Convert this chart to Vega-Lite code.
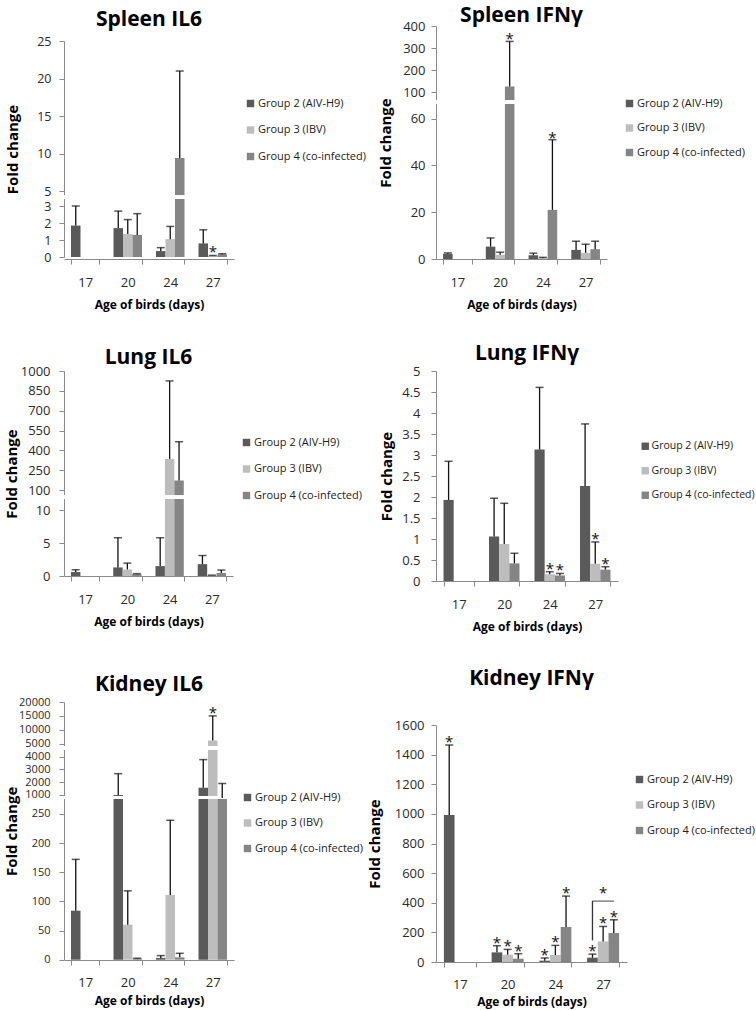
{
  "$schema": "https://vega.github.io/schema/vega-lite/v6.json",
  "padding": {"left": 4, "top": 5, "right": 0, "bottom": 30},
  "background": "white",
  "bounds": "flush",
  "config": {
    "font": "Open Sans",
    "view": {"stroke": null},
    "title": {"font": "Open Sans", "fontSize": 21, "fontWeight": "bold", "color": "#000", "anchor": "middle"},
    "axis": {"grid": false, "labelOverlap": false, "domainColor": "#8a8a8a", "tickColor": "#8a8a8a", "domainWidth": 1, "tickWidth": 1, "tickSize": 5, "labelFont": "Open Sans", "labelFontSize": 13, "labelColor": "#2a2a2a", "titleFont": "Open Sans", "titleFontWeight": "bold", "titleColor": "#000"},
    "axisX": {"labelAngle": 0, "tickBand": "extent", "labelPadding": 12, "titlePadding": 10, "titleFontSize": 12},
    "axisY": {"titleFontSize": 15, "titleBaseline": "middle", "labelPadding": 8, "labelOverlap": false, "tickCount": 40},
    "legend": {"symbolType": "square", "symbolSize": 55, "symbolStrokeWidth": 0, "labelFont": "Open Sans", "labelFontSize": 11, "labelColor": "#222", "rowPadding": 14, "labelOffset": 2, "padding": 0}
  },
  "datasets": {
    "spleen_il6": [
      {"day":"17","group":"Group 2 (AIV-H9)","value":1.85,"upper":3.0,"sig":""},
      {"day":"20","group":"Group 2 (AIV-H9)","value":1.7,"upper":2.7,"sig":""},
      {"day":"20","group":"Group 3 (IBV)","value":1.35,"upper":2.2,"sig":""},
      {"day":"20","group":"Group 4 (co-infected)","value":1.3,"upper":2.55,"sig":""},
      {"day":"24","group":"Group 2 (AIV-H9)","value":0.35,"upper":0.55,"sig":""},
      {"day":"24","group":"Group 3 (IBV)","value":1.05,"upper":1.8,"sig":""},
      {"day":"24","group":"Group 4 (co-infected)","value":9.4,"upper":21.0,"sig":""},
      {"day":"27","group":"Group 2 (AIV-H9)","value":0.8,"upper":1.6,"sig":""},
      {"day":"27","group":"Group 3 (IBV)","value":0.06,"upper":0.09,"sig":"*"},
      {"day":"27","group":"Group 4 (co-infected)","value":0.15,"upper":0.19,"sig":""}
    ],
    "spleen_ifn": [
      {"day":"17","group":"Group 2 (AIV-H9)","value":2.2,"upper":2.6,"sig":""},
      {"day":"20","group":"Group 2 (AIV-H9)","value":5.3,"upper":9.0,"sig":""},
      {"day":"20","group":"Group 3 (IBV)","value":1.8,"upper":2.9,"sig":""},
      {"day":"20","group":"Group 4 (co-infected)","value":125,"upper":330,"sig":"*"},
      {"day":"24","group":"Group 2 (AIV-H9)","value":1.6,"upper":2.5,"sig":""},
      {"day":"24","group":"Group 3 (IBV)","value":0.4,"upper":0.7,"sig":""},
      {"day":"24","group":"Group 4 (co-infected)","value":21,"upper":51,"sig":"*"},
      {"day":"27","group":"Group 2 (AIV-H9)","value":3.9,"upper":7.6,"sig":""},
      {"day":"27","group":"Group 3 (IBV)","value":2.6,"upper":6.3,"sig":""},
      {"day":"27","group":"Group 4 (co-infected)","value":4.2,"upper":7.6,"sig":""}
    ],
    "lung_il6": [
      {"day":"17","group":"Group 2 (AIV-H9)","value":0.6,"upper":0.95,"sig":""},
      {"day":"20","group":"Group 2 (AIV-H9)","value":1.3,"upper":5.8,"sig":""},
      {"day":"20","group":"Group 3 (IBV)","value":1.0,"upper":1.95,"sig":""},
      {"day":"20","group":"Group 4 (co-infected)","value":0.25,"upper":0.35,"sig":""},
      {"day":"24","group":"Group 2 (AIV-H9)","value":1.5,"upper":5.8,"sig":""},
      {"day":"24","group":"Group 3 (IBV)","value":335,"upper":925,"sig":""},
      {"day":"24","group":"Group 4 (co-infected)","value":172,"upper":465,"sig":""},
      {"day":"27","group":"Group 2 (AIV-H9)","value":1.8,"upper":3.1,"sig":""},
      {"day":"27","group":"Group 3 (IBV)","value":0.1,"upper":0.13,"sig":""},
      {"day":"27","group":"Group 4 (co-infected)","value":0.45,"upper":0.9,"sig":""}
    ],
    "lung_ifn": [
      {"day":"17","group":"Group 2 (AIV-H9)","value":1.93,"upper":2.85,"sig":""},
      {"day":"20","group":"Group 2 (AIV-H9)","value":1.06,"upper":1.97,"sig":""},
      {"day":"20","group":"Group 3 (IBV)","value":0.88,"upper":1.85,"sig":""},
      {"day":"20","group":"Group 4 (co-infected)","value":0.42,"upper":0.66,"sig":""},
      {"day":"24","group":"Group 2 (AIV-H9)","value":3.13,"upper":4.61,"sig":""},
      {"day":"24","group":"Group 3 (IBV)","value":0.16,"upper":0.22,"sig":"*"},
      {"day":"24","group":"Group 4 (co-infected)","value":0.13,"upper":0.18,"sig":"*"},
      {"day":"27","group":"Group 2 (AIV-H9)","value":2.26,"upper":3.74,"sig":""},
      {"day":"27","group":"Group 3 (IBV)","value":0.41,"upper":0.93,"sig":"*"},
      {"day":"27","group":"Group 4 (co-infected)","value":0.27,"upper":0.34,"sig":"*"}
    ],
    "kidney_il6": [
      {"day":"17","group":"Group 2 (AIV-H9)","value":84,"upper":172,"sig":""},
      {"day":"20","group":"Group 2 (AIV-H9)","value":1000,"upper":2670,"sig":""},
      {"day":"20","group":"Group 3 (IBV)","value":60,"upper":118,"sig":""},
      {"day":"20","group":"Group 4 (co-infected)","value":1.5,"upper":2.5,"sig":""},
      {"day":"24","group":"Group 2 (AIV-H9)","value":3,"upper":7,"sig":""},
      {"day":"24","group":"Group 3 (IBV)","value":111,"upper":239,"sig":""},
      {"day":"24","group":"Group 4 (co-infected)","value":4,"upper":11,"sig":""},
      {"day":"27","group":"Group 2 (AIV-H9)","value":1570,"upper":3770,"sig":""},
      {"day":"27","group":"Group 3 (IBV)","value":6200,"upper":15000,"sig":"*"},
      {"day":"27","group":"Group 4 (co-infected)","value":770,"upper":1900,"sig":""}
    ],
    "kidney_ifn": [
      {"day":"17","group":"Group 2 (AIV-H9)","value":993,"upper":1465,"sig":"*"},
      {"day":"20","group":"Group 2 (AIV-H9)","value":65,"upper":110,"sig":"*"},
      {"day":"20","group":"Group 3 (IBV)","value":49,"upper":85,"sig":"*"},
      {"day":"20","group":"Group 4 (co-infected)","value":22,"upper":56,"sig":"*"},
      {"day":"24","group":"Group 2 (AIV-H9)","value":9,"upper":27,"sig":"*"},
      {"day":"24","group":"Group 3 (IBV)","value":47,"upper":112,"sig":"*"},
      {"day":"24","group":"Group 4 (co-infected)","value":236,"upper":445,"sig":"*"},
      {"day":"27","group":"Group 2 (AIV-H9)","value":29,"upper":53,"sig":"*"},
      {"day":"27","group":"Group 3 (IBV)","value":139,"upper":240,"sig":"*"},
      {"day":"27","group":"Group 4 (co-infected)","value":196,"upper":285,"sig":"*"}
    ],
    "kidney_ifn_bracket_v": [
      {"day":"27","group":"Group 2 (AIV-H9)","from":146,"to":411}
    ],
    "kidney_ifn_bracket_h": [
      {"day":"27","group":"Group 3 (IBV)","level":411,"sig":"*"}
    ]
  },
  "columns": 2,
  "spacing": {"row": 112, "column": 202},
  "resolve": {"scale": {"x": "independent", "y": "independent", "xOffset": "independent", "color": "independent"}, "legend": {"color": "independent"}},
  "concat": [
    {
      "title": {"text": "Spleen IL6", "offset": -4},
      "width": 170, "height": 233,
      "data": {"name": "spleen_il6"},
      "layer": [
        {"mark": {"type": "bar"},
         "encoding": {
           "x": {"field": "day", "type": "nominal", "title": "Age of birds (days)", "scale": {"paddingInner": 0.33, "paddingOuter": 0.165}},
           "xOffset": {"field": "group", "type": "nominal"},
           "y": {"field": "value", "type": "quantitative", "title": "Fold change", "scale": {"domain": [0, 3.4, 4.4, 25], "range": [231, 173.2, 169.5, 15], "nice": false, "zero": false}, "axis": {"values": [0,1,2,3,5,10,15,20,25], "format": "d", "tickCount": 40, "labelOverlap": false, "titleX": -52, "labelFontSize": 12.5}},
           "color": {"field": "group", "type": "nominal", "scale": {"domain": ["Group 2 (AIV-H9)", "Group 3 (IBV)", "Group 4 (co-infected)"], "range": ["#5a5a5a", "#bdbdbd", "#858585"]}, "legend": {"title": null, "orient": "none", "legendX": 181, "legendY": 72, "rowPadding": 14.5}}
         }},
        {"mark": {"type": "rule", "color": "white", "strokeWidth": 3}, "encoding": {"y": {"datum": 3.9, "type": "quantitative"}}},
        {"mark": {"type": "rule", "color": "#111", "strokeWidth": 1.3},
         "encoding": {
           "x": {"field": "day", "type": "nominal", "title": "Age of birds (days)"},
           "xOffset": {"field": "group", "type": "nominal"},
           "y": {"field": "value", "type": "quantitative", "title": "Fold change"}, "y2": {"field": "upper"}}},
        {"mark": {"type": "tick", "color": "#111", "thickness": 1.5, "size": 8},
         "encoding": {
           "x": {"field": "day", "type": "nominal", "title": "Age of birds (days)"},
           "xOffset": {"field": "group", "type": "nominal"},
           "y": {"field": "upper", "type": "quantitative", "title": "Fold change"}}},
        {"transform": [{"filter": "datum.sig == '*'"}],
         "mark": {"type": "text", "fontSize": 15, "baseline": "alphabetic", "dy": 2, "color": "#111"},
         "encoding": {
           "x": {"field": "day", "type": "nominal", "title": "Age of birds (days)"},
           "xOffset": {"field": "group", "type": "nominal"},
           "y": {"field": "upper", "type": "quantitative", "title": "Fold change"},
           "text": {"field": "sig"}}}
      ]
    },
    {
      "title": {"text": "Spleen IFNγ", "offset": -6},
      "width": 171, "height": 233,
      "data": {"name": "spleen_ifn"},
      "layer": [
        {"mark": {"type": "bar"},
         "encoding": {
           "x": {"field": "day", "type": "nominal", "title": "Age of birds (days)", "scale": {"paddingInner": 0.33, "paddingOuter": 0.165}},
           "xOffset": {"field": "group", "type": "nominal"},
           "y": {"field": "value", "type": "quantitative", "title": "Fold change", "scale": {"domain": [0, 66, 67, 400], "range": [233, 78.6, 73.3, 0], "nice": false, "zero": false}, "axis": {"values": [0,20,40,60,100,200,300,400], "format": "d", "tickCount": 40, "labelOverlap": false, "titleX": -51, "labelPadding": 6}},
           "color": {"field": "group", "type": "nominal", "scale": {"domain": ["Group 2 (AIV-H9)", "Group 3 (IBV)", "Group 4 (co-infected)"], "range": ["#5a5a5a", "#bdbdbd", "#858585"]}, "legend": {"title": null, "orient": "none", "legendX": 188, "legendY": 72, "rowPadding": 12.5}}
         }},
        {"mark": {"type": "rule", "color": "white", "strokeWidth": 3}, "encoding": {"y": {"datum": 66.5, "type": "quantitative"}}},
        {"mark": {"type": "rule", "color": "#111", "strokeWidth": 1.3},
         "encoding": {
           "x": {"field": "day", "type": "nominal", "title": "Age of birds (days)"},
           "xOffset": {"field": "group", "type": "nominal"},
           "y": {"field": "value", "type": "quantitative", "title": "Fold change"}, "y2": {"field": "upper"}}},
        {"mark": {"type": "tick", "color": "#111", "thickness": 1.5, "size": 8},
         "encoding": {
           "x": {"field": "day", "type": "nominal", "title": "Age of birds (days)"},
           "xOffset": {"field": "group", "type": "nominal"},
           "y": {"field": "upper", "type": "quantitative", "title": "Fold change"}}},
        {"transform": [{"filter": "datum.sig == '*'"}],
         "mark": {"type": "text", "fontSize": 15, "baseline": "alphabetic", "dy": 3, "color": "#111"},
         "encoding": {
           "x": {"field": "day", "type": "nominal", "title": "Age of birds (days)"},
           "xOffset": {"field": "group", "type": "nominal"},
           "y": {"field": "upper", "type": "quantitative", "title": "Fold change"},
           "text": {"field": "sig"}}}
      ]
    },
    {
      "title": {"text": "Lung IL6", "offset": -3},
      "width": 169, "height": 205,
      "data": {"name": "lung_il6"},
      "layer": [
        {"mark": {"type": "bar"},
         "encoding": {
           "x": {"field": "day", "type": "nominal", "title": "Age of birds (days)", "scale": {"paddingInner": 0.33, "paddingOuter": 0.165}},
           "xOffset": {"field": "group", "type": "nominal"},
           "y": {"field": "value", "type": "quantitative", "title": "Fold change", "scale": {"domain": [0, 11.5, 70, 1000], "range": [205, 129.1, 123, 0], "nice": false, "zero": false}, "axis": {"values": [0,5,10,100,250,400,550,700,850,1000], "format": "d", "tickCount": 40, "labelOverlap": false, "titleX": -53, "labelPadding": 9}},
           "color": {"field": "group", "type": "nominal", "scale": {"domain": ["Group 2 (AIV-H9)", "Group 3 (IBV)", "Group 4 (co-infected)"], "range": ["#5a5a5a", "#bdbdbd", "#858585"]}, "legend": {"title": null, "orient": "none", "legendX": 177, "legendY": 66, "rowPadding": 14.5}}
         }},
        {"mark": {"type": "rule", "color": "white", "strokeWidth": 3}, "encoding": {"y": {"datum": 40, "type": "quantitative"}}},
        {"mark": {"type": "rule", "color": "#111", "strokeWidth": 1.3},
         "encoding": {
           "x": {"field": "day", "type": "nominal", "title": "Age of birds (days)"},
           "xOffset": {"field": "group", "type": "nominal"},
           "y": {"field": "value", "type": "quantitative", "title": "Fold change"}, "y2": {"field": "upper"}}},
        {"mark": {"type": "tick", "color": "#111", "thickness": 1.5, "size": 8},
         "encoding": {
           "x": {"field": "day", "type": "nominal", "title": "Age of birds (days)"},
           "xOffset": {"field": "group", "type": "nominal"},
           "y": {"field": "upper", "type": "quantitative", "title": "Fold change"}}}
      ]
    },
    {
      "title": {"text": "Lung IFNγ", "offset": 1},
      "width": 182, "height": 210,
      "data": {"name": "lung_ifn"},
      "layer": [
        {"mark": {"type": "bar"},
         "encoding": {
           "x": {"field": "day", "type": "nominal", "title": "Age of birds (days)", "scale": {"paddingInner": 0.33, "paddingOuter": 0.165}},
           "xOffset": {"field": "group", "type": "nominal"},
           "y": {"field": "value", "type": "quantitative", "title": "Fold change", "scale": {"domain": [0, 5], "nice": false, "zero": false}, "axis": {"values": [0,0.5,1,1.5,2,2.5,3,3.5,4,4.5,5], "tickCount": 40, "labelOverlap": false, "format": ".1~f", "titleX": -50, "labelPadding": 11}},
           "color": {"field": "group", "type": "nominal", "scale": {"domain": ["Group 2 (AIV-H9)", "Group 3 (IBV)", "Group 4 (co-infected)"], "range": ["#5a5a5a", "#bdbdbd", "#858585"]}, "legend": {"title": null, "orient": "none", "legendX": 204, "legendY": 70, "rowPadding": 13.5, "labelOffset": 1, "labelFontSize": 10.5}}
         }},
        {"mark": {"type": "rule", "color": "#111", "strokeWidth": 1.3},
         "encoding": {
           "x": {"field": "day", "type": "nominal", "title": "Age of birds (days)"},
           "xOffset": {"field": "group", "type": "nominal"},
           "y": {"field": "value", "type": "quantitative", "title": "Fold change"}, "y2": {"field": "upper"}}},
        {"mark": {"type": "tick", "color": "#111", "thickness": 1.5, "size": 8},
         "encoding": {
           "x": {"field": "day", "type": "nominal", "title": "Age of birds (days)"},
           "xOffset": {"field": "group", "type": "nominal"},
           "y": {"field": "upper", "type": "quantitative", "title": "Fold change"}}},
        {"transform": [{"filter": "datum.sig == '*'"}],
         "mark": {"type": "text", "fontSize": 15, "baseline": "alphabetic", "dy": 2, "color": "#111"},
         "encoding": {
           "x": {"field": "day", "type": "nominal", "title": "Age of birds (days)"},
           "xOffset": {"field": "group", "type": "nominal"},
           "y": {"field": "upper", "type": "quantitative", "title": "Fold change"},
           "text": {"field": "sig"}}}
      ]
    },
    {
      "title": {"text": "Kidney IL6", "offset": -2},
      "width": 170, "height": 267,
      "data": {"name": "kidney_il6"},
      "layer": [
        {"mark": {"type": "bar"},
         "encoding": {
           "x": {"field": "day", "type": "nominal", "title": "Age of birds (days)", "scale": {"paddingInner": 0.33, "paddingOuter": 0.165}, "axis": {"labelPadding": 11, "titlePadding": 6}},
           "xOffset": {"field": "group", "type": "nominal"},
           "y": {"field": "value", "type": "quantitative", "title": "Fold change", "scale": {"domain": [0, 270, 600, 4500, 4510, 20000], "range": [266.7, 109.2, 107.1, 57.3, 52.1, 9], "nice": false, "zero": false}, "axis": {"values": [0,50,100,150,200,250,1000,2000,3000,4000,5000,10000,15000,20000], "tickCount": 40, "labelOverlap": false, "format": "d", "titleX": -53, "labelPadding": 9, "labelFontSize": 11}},
           "color": {"field": "group", "type": "nominal", "scale": {"domain": ["Group 2 (AIV-H9)", "Group 3 (IBV)", "Group 4 (co-infected)"], "range": ["#5a5a5a", "#bdbdbd", "#858585"]}, "legend": {"title": null, "orient": "none", "legendX": 178, "legendY": 99, "rowPadding": 13.5}}
         }},
        {"mark": {"type": "rule", "color": "white", "strokeWidth": 3}, "encoding": {"y": {"datum": 800, "type": "quantitative"}}},
        {"mark": {"type": "rule", "color": "white", "strokeWidth": 3}, "encoding": {"y": {"datum": 4505, "type": "quantitative"}}},
        {"mark": {"type": "rule", "color": "#111", "strokeWidth": 1.3},
         "encoding": {
           "x": {"field": "day", "type": "nominal", "title": "Age of birds (days)"},
           "xOffset": {"field": "group", "type": "nominal"},
           "y": {"field": "value", "type": "quantitative", "title": "Fold change"}, "y2": {"field": "upper"}}},
        {"mark": {"type": "tick", "color": "#111", "thickness": 1.5, "size": 8},
         "encoding": {
           "x": {"field": "day", "type": "nominal", "title": "Age of birds (days)"},
           "xOffset": {"field": "group", "type": "nominal"},
           "y": {"field": "upper", "type": "quantitative", "title": "Fold change"}}},
        {"transform": [{"filter": "datum.sig == '*'"}],
         "mark": {"type": "text", "fontSize": 15, "baseline": "alphabetic", "dy": 2, "color": "#111"},
         "encoding": {
           "x": {"field": "day", "type": "nominal", "title": "Age of birds (days)"},
           "xOffset": {"field": "group", "type": "nominal"},
           "y": {"field": "upper", "type": "quantitative", "title": "Fold change"},
           "text": {"field": "sig"}}}
      ]
    },
    {
      "title": {"text": "Kidney IFNγ", "offset": 4},
      "width": 191, "height": 269,
      "data": {"name": "kidney_ifn"},
      "layer": [
        {"mark": {"type": "bar"},
         "encoding": {
           "x": {"field": "day", "type": "nominal", "title": "Age of birds (days)", "scale": {"paddingInner": 0.33, "paddingOuter": 0.165}, "axis": {"labelPadding": 11, "titlePadding": 5}},
           "xOffset": {"field": "group", "type": "nominal"},
           "y": {"field": "value", "type": "quantitative", "title": "Fold change", "scale": {"domain": [0, 1600], "range": [269, 32], "nice": false, "zero": false}, "axis": {"values": [0,200,400,600,800,1000,1200,1400,1600], "tickCount": 40, "labelOverlap": false, "format": "d", "titleX": -62, "labelPadding": 7}},
           "color": {"field": "group", "type": "nominal", "scale": {"domain": ["Group 2 (AIV-H9)", "Group 3 (IBV)", "Group 4 (co-infected)"], "range": ["#5a5a5a", "#bdbdbd", "#858585"]}, "legend": {"title": null, "orient": "none", "legendX": 198, "legendY": 81, "rowPadding": 13.5}}
         }},
        {"mark": {"type": "rule", "color": "#111", "strokeWidth": 1.3},
         "encoding": {
           "x": {"field": "day", "type": "nominal", "title": "Age of birds (days)"},
           "xOffset": {"field": "group", "type": "nominal"},
           "y": {"field": "value", "type": "quantitative", "title": "Fold change"}, "y2": {"field": "upper"}}},
        {"mark": {"type": "tick", "color": "#111", "thickness": 1.5, "size": 8},
         "encoding": {
           "x": {"field": "day", "type": "nominal", "title": "Age of birds (days)"},
           "xOffset": {"field": "group", "type": "nominal"},
           "y": {"field": "upper", "type": "quantitative", "title": "Fold change"}}},
        {"transform": [{"filter": "datum.sig == '*'"}],
         "mark": {"type": "text", "fontSize": 15, "baseline": "alphabetic", "dy": 2, "color": "#111"},
         "encoding": {
           "x": {"field": "day", "type": "nominal", "title": "Age of birds (days)"},
           "xOffset": {"field": "group", "type": "nominal"},
           "y": {"field": "upper", "type": "quantitative", "title": "Fold change"},
           "text": {"field": "sig"}}},
        {"data": {"name": "kidney_ifn_bracket_v"},
         "mark": {"type": "rule", "color": "#333", "strokeWidth": 1.3},
         "encoding": {
           "x": {"field": "day", "type": "nominal", "title": "Age of birds (days)"},
           "xOffset": {"field": "group", "type": "nominal"},
           "y": {"field": "from", "type": "quantitative", "title": "Fold change"}, "y2": {"field": "to"}}},
        {"data": {"name": "kidney_ifn_bracket_h"},
         "mark": {"type": "tick", "color": "#333", "thickness": 1.3, "size": 22},
         "encoding": {
           "x": {"field": "day", "type": "nominal", "title": "Age of birds (days)"},
           "xOffset": {"field": "group", "type": "nominal"},
           "y": {"field": "level", "type": "quantitative", "title": "Fold change"}}},
        {"data": {"name": "kidney_ifn_bracket_h"},
         "mark": {"type": "text", "fontSize": 15, "baseline": "alphabetic", "dy": -3, "color": "#111"},
         "encoding": {
           "x": {"field": "day", "type": "nominal", "title": "Age of birds (days)"},
           "xOffset": {"field": "group", "type": "nominal"},
           "y": {"field": "level", "type": "quantitative", "title": "Fold change"},
           "text": {"field": "sig"}}}
      ]
    }
  ]
}
